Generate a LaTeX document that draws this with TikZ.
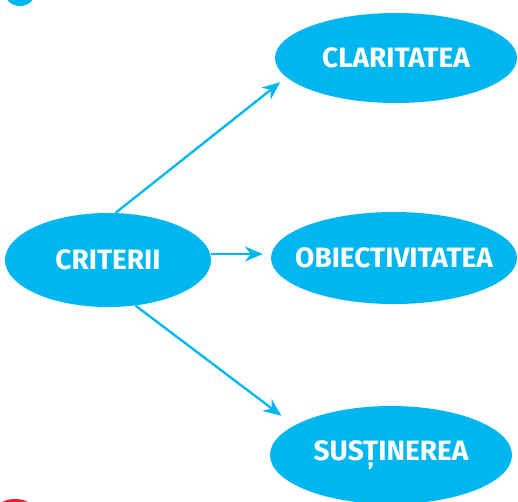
\documentclass[tikz,border=0pt]{standalone}
\usepackage{fontspec}
\setmainfont{Fira Sans}
\usetikzlibrary{arrows.meta,shapes.geometric}
\definecolor{cyanblue}{RGB}{0,182,240}
\definecolor{markred}{RGB}{236,28,36}
\newcommand{\bubbletext}[1]{\makebox[0pt]{#1}}

\begin{document}
\begin{tikzpicture}[x=1pt, y=-1pt,
	bubble/.style={ellipse, fill=cyanblue, inner sep=0pt, text=white, font=\fontsize{28}{32}\selectfont\bfseries},
	link/.style={draw=cyanblue, line width=2.3pt, -{Stealth[length=18pt,width=15pt,inset=6pt]}}]
	\useasboundingbox (0,0) rectangle (518,501);
	\fill[cyanblue] (20,-10) circle (16);
	\fill[markred] (15,529) circle (30);
	\node[bubble, minimum width=206, minimum height=94] (crit) at (108,260) {\bubbletext{CRITERII}};
	\node[bubble, minimum width=242, minimum height=90] (clar) at (396,58) {\bubbletext{CLARITATEA}};
	\node[bubble, minimum width=246, minimum height=92] (obj) at (394,258) {\bubbletext{OBIECTIVITATEA}};
	\node[bubble, minimum width=242, minimum height=98] (sust) at (391,455) {\bubbletext{SUSȚINEREA}};
	\draw[link, shorten >=8pt] (crit.81) -- (clar.190.6);
	\draw[link, shorten >=8pt] ([yshift=6pt]crit.east) -- ([yshift=4pt]obj.west);
	\draw[link, shorten >=16pt] (crit.-59) -- (sust.163.5);
\end{tikzpicture}
\end{document}
